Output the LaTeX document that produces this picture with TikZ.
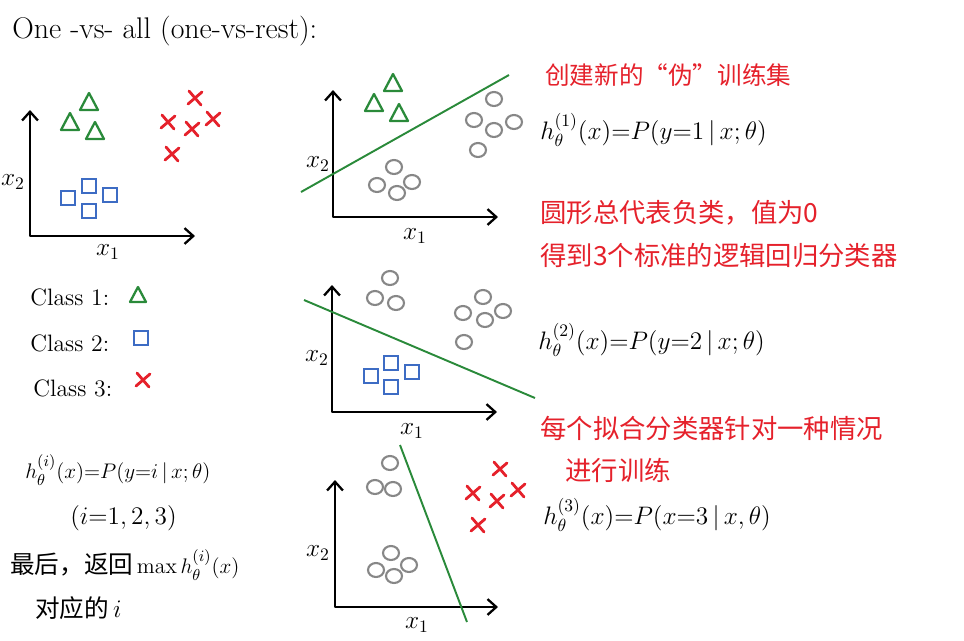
\documentclass[tikz,border=0pt]{standalone}
\usepackage{amsmath}
\usepackage{fontspec}
\newfontfamily\cjk{Noto Sans CJK SC}
\usetikzlibrary{arrows.meta}
\definecolor{verd}{HTML}{2A8A3A}
\definecolor{blau}{HTML}{3D6CC4}
\definecolor{vermell}{HTML}{E5212B}
\definecolor{gris}{HTML}{878787}
\tikzset{
  eix/.style={<->, >={Straight Barb[length=5pt,width=9pt]}, line width=1.3pt, line join=round},
  frontera/.style={draw=verd, line width=1.1pt},
  classe1/.style={draw=verd, line width=1.3pt, line join=round},
  classe2/.style={draw=blau, line width=1.3pt},
  classe3/.style={draw=vermell, line width=1.6pt, line cap=round},
  resta/.style={draw=gris, line width=1.2pt},
  titol/.style={font=\fontsize{17}{20}\selectfont, anchor=west, inner sep=0pt},
  nota/.style={text=vermell, font=\cjk\fontsize{15}{18}\selectfont, anchor=west, inner sep=0pt},
  formula/.style={font=\fontsize{14}{17}\selectfont, anchor=west, inner sep=0pt},
  formulapetita/.style={font=\fontsize{12.5}{15}\selectfont, anchor=west, inner sep=0pt},
  rotul/.style={font=\fontsize{13.5}{16}\selectfont, anchor=west, inner sep=0pt},
  eixtext/.style={font=\fontsize{14}{16}\selectfont, inner sep=0pt},
}

\begin{document}
\begin{tikzpicture}[x=0.02cm,y=-0.02cm]
  \useasboundingbox (0,0) rectangle (964,640);

  \node[titol] (titol) at (12,31) {One -vs- all (one-vs-rest):};

  % Dades originals amb les tres classes.
  \coordinate (O1) at (30,236);
  \draw[eix] (30,110) -- (O1) -- (195,236);
  \node[eixtext] (y1) at (13,182) {$x_2$};
  \node[eixtext] (x1) at (108,252) {$x_1$};
  \foreach \p in {(89,102),(70,122),(95,131)}
    \draw[classe1] \p +(-9,8) -- +(0,-9) -- +(9,8) -- cycle;
  \foreach \p in {(68,198),(89,186),(110,195),(89,211)}
    \draw[classe2] \p +(-7,-7) rectangle +(7,7);
  \foreach \p in {(195,98),(168,122),(192,129),(213,119),(172,154)}
    \draw[classe3] \p +(-6,-7) -- +(6,7) \p +(-7,6) -- +(7,-6);

  % Llegenda.
  \node[rotul] (llegenda1) at (30,297) {Class 1:};
  \node[rotul] (llegenda2) at (30,343) {Class 2:};
  \node[rotul] (llegenda3) at (33,388) {Class 3:};
  \draw[classe1] (138,295) +(-8,7) -- +(0,-8) -- +(8,7) -- cycle;
  \draw[classe2] (141,338) +(-7,-7) rectangle +(7,7);
  \draw[classe3] (143,380) +(-6,-7) -- +(6,7) (143,380) +(-7,6) -- +(7,-6);

  % Classificador 1: triangles contra la resta.
  \coordinate (O2) at (333,217);
  \draw[eix] (333,90) -- (O2) -- (498,217);
  \node[eixtext] (y2) at (318,164) {$x_2$};
  \node[eixtext] (x2) at (415,236) {$x_1$};
  \foreach \p in {(393,83),(374,103),(399,113)}
    \draw[classe1] \p +(-9,8) -- +(0,-9) -- +(9,8) -- cycle;
  \foreach \p in {(494,99),(474,120),(514,122),(494,130),(478,150),(394,167),(377,185),(412,182),(397,193)}
    \draw[resta] \p ellipse [x radius=8, y radius=7];
  \draw[frontera] (301,192) -- (509,75);

  % Classificador 2: quadrats contra la resta.
  \coordinate (O3) at (332,412);
  \draw[eix] (332,285) -- (O3) -- (497,412);
  \node[eixtext] (y3) at (317,358) {$x_2$};
  \node[eixtext] (x3) at (412,431) {$x_1$};
  \foreach \p in {(390,278),(375,298),(396,303),(483,297),(463,313),(503,311),(485,320),(464,342)}
    \draw[resta] \p ellipse [x radius=8, y radius=7];
  \foreach \p in {(371,376),(391,363),(412,372),(391,387)}
    \draw[classe2] \p +(-7,-7) rectangle +(7,7);
  \draw[frontera] (304,300) -- (535,398);

  % Classificador 3: creus contra la resta.
  \coordinate (O4) at (335,607);
  \draw[eix] (335,480) -- (O4) -- (498,607);
  \node[eixtext] (y4) at (318,553) {$x_2$};
  \node[eixtext] (x4) at (417,625) {$x_1$};
  \foreach \p in {(390,463),(375,487),(393,489),(391,553),(376,570),(409,565),(394,576)}
    \draw[resta] \p ellipse [x radius=8, y radius=7];
  \foreach \p in {(500,469),(473,493),(497,501),(518,490),(478,525)}
    \draw[classe3] \p +(-6,-7) -- +(6,7) \p +(-7,6) -- +(7,-6);
  \draw[frontera] (400,445) -- (467,622);

  % Notes i hipotesis de la dreta.
  \node[nota, font=\cjk\fontsize{14}{17}\selectfont] (nota1) at (545,75) {创建新的“伪”训练集};
  \node[formula] (h1) at (540,130) {$h_\theta^{(1)}(x) {=} P(y{=}1\,|\,x;\theta)$};
  \node[nota] (nota2) at (540,213) {圆形总代表负类，值为0};
  \node[nota] (nota3) at (540,255) {得到3个标准的逻辑回归分类器};
  \node[formula] (h2) at (538,340) {$h_\theta^{(2)}(x){=}P(y{=}2\,|\,x;\theta)$};
  \node[nota] (nota4) at (540,428) {每个拟合分类器针对一种情况};
  \node[nota] (nota5) at (565,470) {进行训练};
  \node[formula] (h3) at (543,515) {$h_\theta^{(3)}(x){=}P(x{=}3\,|\,x,\theta)$};

  % Hipotesi general i decisio final.
  \node[formulapetita] (hi) at (25,470) {$h_\theta^{(i)}(x){=}P(y{=}i\,|\,x;\theta)$};
  \node[formula] (rang) at (70,518) {$(i{=}1,2,3)$};
  \node[formulapetita] (final) at (10,565) {{\cjk\fontsize{14}{17}\selectfont 最后，返回}\,$\max h_\theta^{(i)}(x)$};
  \node[formula] (final2) at (35,608) {{\cjk 对应的}\,$i$};
\end{tikzpicture}
\end{document}
